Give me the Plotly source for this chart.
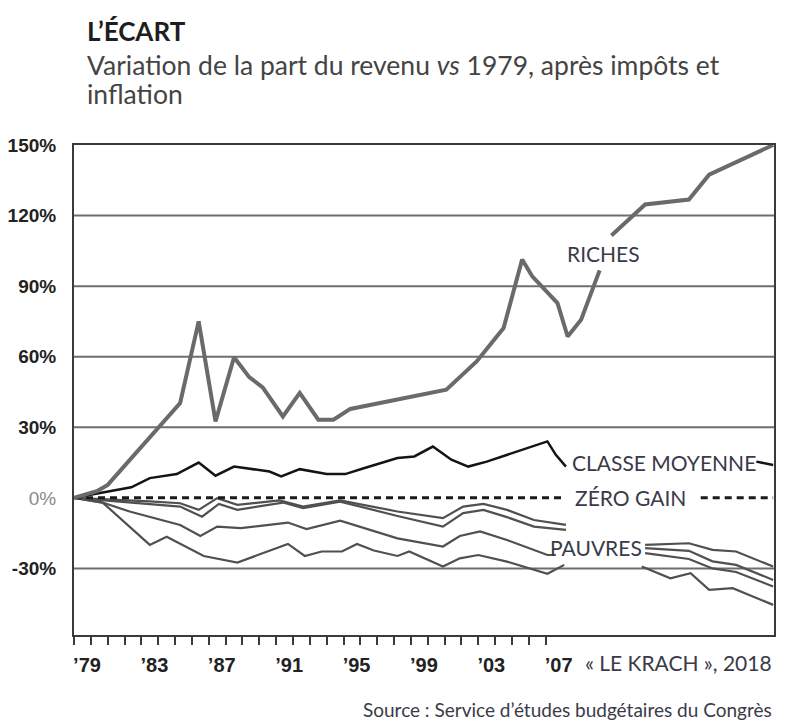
import plotly.graph_objects as go

# ---------------- data ----------------
RICHES_YEARS = [1979, 1980.4, 1981.0, 1985.3, 1986.4, 1987.4, 1988.5, 1989.4, 1990.2, 1991.4,
                1992.4, 1993.5, 1994.4, 1995.4, 2001.1, 2002.9, 2004.5, 2005.6, 2006.2, 2007.7,
                2008.3, 2009.1, 2010.2, None, 2010.9, 2012.9, 2015.5, 2016.7, 2020.5]
RICHES_VALUES = [0, 3, 5.5, 40.3, 75, 32.5, 59.8, 51.3, 47, 34.6,
                 44.6, 33.2, 33.2, 37.8, 46, 58, 72.2, 101.3, 94.2, 82.8,
                 68.6, 75.7, 96.7, None, 111.5, 124.7, 126.8, 137.4, 150]

MIDDLE_YEARS = [1979, 1980.7, 1982.4, 1983.5, 1985.1, 1986.4, 1987.4, 1988.5, 1989.6, 1990.6,
                1991.3, 1992.4, 1994.0, 1995.1, 1996.2, 1997.2, 1998.2, 1999.2, 2000.3, 2001.4,
                2002.4, 2003.5, 2007.1, 2007.6, 2008.2, None, 2019.5, 2020.5]
MIDDLE_VALUES = [0, 2.3, 4.5, 8.4, 10.1, 15, 9.4, 13.3, 12.2, 11.2,
                 9.1, 12.2, 10.1, 10.1, 12.6, 14.8, 16.9, 17.6, 21.8, 16.2,
                 13.3, 15.4, 24, 18.3, 13.3, None, 15.4, 14]

ZERO_YEARS = [1979, 2008.0, None, 2016.2, 2020.5]
ZERO_VALUES = [0, 0, None, 0, 0]

POOR1_YEARS = [1979, 1980.7, 1983.5, 1985.3, 1986.4, 1987.5, 1988.7, 1991.2, 1992.6, 1994.8,
               1998.2, 2000.9, 2002.1, 2003.3, 2004.7, 2006.3, 2008.2, None,
               2012.9, 2015.5, 2016.9, 2018.3, 2020.5]
POOR1_VALUES = [0, -0.5, -1.5, -2.3, -5.1, -0.1, -3, -1.1, -3.7, -1.1,
                -5.8, -8.6, -3.7, -2.6, -5.1, -9.4, -11.5, None,
                -20, -19.3, -22.1, -22.8, -29.2]

POOR2_YEARS = [1979, 1980.7, 1983.5, 1985.3, 1986.6, 1987.6, 1988.7, 1991.4, 1992.6, 1994.8,
               1998.2, 2000.9, 2002.1, 2003.3, 2004.7, 2006.3, 2008.2, None,
               2012.9, 2015.5, 2016.9, 2018.3, 2020.5]
POOR2_VALUES = [0, -1, -2.5, -3.7, -8, -2.6, -5.1, -2, -4.4, -1.6,
                -7.7, -12.2, -6.5, -5.1, -8.2, -12.2, -13.6, None,
                -21.4, -22.5, -27, -28.5, -34.9]

POOR3_YEARS = [1979, 1980.7, 1982.3, 1983.7, 1985.3, 1986.5, 1987.5, 1988.9, 1991.7, 1992.8,
               1994.8, 1998.2, 2000.9, 2001.9, 2003.1, 2004.7, 2007.1, 2007.6, None,
               2012.9, 2015.5, 2016.9, 2018.3, 2020.5]
POOR3_VALUES = [0, -2, -5.8, -8.6, -11.5, -16.2, -12.2, -12.9, -10.5, -13.3,
                -9.7, -17.2, -20.7, -16.2, -14.3, -17.9, -24.3, -24.3, None,
                -23.5, -26, -30, -31.5, -37.7]

POOR4_YEARS = [1979, 1980.7, 1983.5, 1984.5, 1986.7, 1988.7, 1991.7, 1992.7, 1993.7, 1994.9,
               1995.8, 1996.8, 1998.2, 1998.9, 2000.9, 2001.9, 2003.0, 2004.7, 2007.1, 2008.1, None,
               2012.7, 2014.4, 2015.6, 2016.7, 2018.1, 2020.5]
POOR4_VALUES = [0, -2, -20, -16.5, -24.7, -27.5, -19.6, -24.7, -22.8, -22.8,
                -19.6, -22.4, -24.7, -22.8, -29.2, -25.7, -24.3, -27.1, -32.3, -28.5, None,
                -29.2, -34.2, -32, -39.1, -38.4, -45.5]

Y_TICKS = [-30, 0, 30, 60, 90, 120, 150]
Y_TICK_TEXT = ["-30%", "<span style='font-weight:normal;color:#8a8a8a'>0%</span>",
               "30%", "60%", "90%", "120%", "150%"]
GRID_VALUES = [-30, 30, 60, 90, 120]
X_MINOR_TICKS = list(range(1979, 2008))
X_LABELLED = {1979: "’79", 1983: "’83", 1987: "’87", 1991: "’91",
              1995: "’95", 1999: "’99", 2003: "’03", 2007: "’07"}

TITLE = "L’ÉCART"
SUBTITLE_1 = "Variation de la part du revenu <i>vs</i> 1979, après impôts et"
SUBTITLE_2 = "inflation"
SOURCE = "Source\u202f: Service d’études budgétaires du Congrès"
CREDIT = "«\u202fLE KRACH\u202f», 2018"

# ---------------- figure ----------------
TXT = "#3a3a48"
LABEL_FONT = "Lato, 'Open Sans', sans-serif"

fig = go.Figure()

for yrs, vals in [(POOR1_YEARS, POOR1_VALUES), (POOR2_YEARS, POOR2_VALUES),
                  (POOR3_YEARS, POOR3_VALUES), (POOR4_YEARS, POOR4_VALUES)]:
    fig.add_trace(go.Scatter(x=yrs, y=vals, mode="lines", connectgaps=False,
                             line=dict(color="#505050", width=2.2), hoverinfo="skip"))

fig.add_trace(go.Scatter(x=ZERO_YEARS, y=ZERO_VALUES, mode="lines", connectgaps=False,
                         line=dict(color="#1a1a1a", width=3, dash="7px,5px"), hoverinfo="skip"))
fig.add_trace(go.Scatter(x=MIDDLE_YEARS, y=MIDDLE_VALUES, mode="lines", connectgaps=False,
                         line=dict(color="#141414", width=2.5), hoverinfo="skip"))
fig.add_trace(go.Scatter(x=RICHES_YEARS, y=RICHES_VALUES, mode="lines", connectgaps=False,
                         line=dict(color="#6a6a6a", width=4), hoverinfo="skip"))

shapes = [dict(type="line", xref="paper", x0=0, x1=1, yref="y", y0=g, y1=g,
               line=dict(color="#6e6e6e", width=2), layer="below") for g in GRID_VALUES]

annotations = [
    dict(text=f"<b>{TITLE}</b>", xref="paper", yref="paper", x=0.016, y=1.233,
         xanchor="left", yanchor="middle", showarrow=False,
         font=dict(family=LABEL_FONT, size=26, color="#1e1e1e")),
    dict(text=SUBTITLE_1, xref="paper", yref="paper", x=0.016, y=1.163,
         xanchor="left", yanchor="middle", showarrow=False,
         font=dict(family=LABEL_FONT, size=26.5, color="#444444")),
    dict(text=SUBTITLE_2, xref="paper", yref="paper", x=0.016, y=1.104,
         xanchor="left", yanchor="middle", showarrow=False,
         font=dict(family=LABEL_FONT, size=26.5, color="#444444")),
    dict(text="RICHES", x=2010.45, y=103.8, xanchor="center", yanchor="middle",
         showarrow=False, font=dict(family=LABEL_FONT, size=21, color=TXT)),
    dict(text="CLASSE MOYENNE", x=2014.0, y=14.9, xanchor="center", yanchor="middle",
         showarrow=False, font=dict(family=LABEL_FONT, size=21, color=TXT)),
    dict(text="ZÉRO GAIN", x=2012.05, y=0, xanchor="center", yanchor="middle",
         showarrow=False, font=dict(family=LABEL_FONT, size=21, color=TXT)),
    dict(text="PAUVRES", x=2010.0, y=-21.3, xanchor="center", yanchor="middle",
         showarrow=False, font=dict(family=LABEL_FONT, size=21, color=TXT)),
    dict(text=CREDIT, xref="paper", yref="paper", x=1.0, y=-0.057,
         xanchor="right", yanchor="middle", showarrow=False,
         font=dict(family=LABEL_FONT, size=21, color=TXT)),
    dict(text=SOURCE, xref="paper", yref="paper", x=1.0, y=-0.153,
         xanchor="right", yanchor="middle", showarrow=False,
         font=dict(family=LABEL_FONT, size=19, color=TXT)),
]

fig.update_layout(
    width=782, height=719,
    margin=dict(l=66, r=16, t=137, b=92, autoexpand=False),
    paper_bgcolor="white", plot_bgcolor="white",
    showlegend=False,
    shapes=shapes,
    annotations=annotations,
    xaxis=dict(
        range=[1979, 2020.55], showgrid=False, zeroline=False, automargin=False,
        showline=True, mirror=True, linecolor="#3a3a3a", linewidth=2,
        tickmode="array", tickvals=X_MINOR_TICKS,
        ticktext=[X_LABELLED.get(y, "") for y in X_MINOR_TICKS],
        ticks="outside", ticklen=8, tickwidth=1.5, tickcolor="#3a3a3a",
        ticklabelshift=13, ticklabelstandoff=3,
        tickfont=dict(family="Liberation Sans, Arial, sans-serif", size=20,
                      color="#222222", weight="bold"),
    ),
    yaxis=dict(
        range=[-58.3, 150], showgrid=False, zeroline=False, automargin=False,
        showline=True, mirror=True, linecolor="#3a3a3a", linewidth=2,
        tickmode="array", tickvals=Y_TICKS, ticktext=Y_TICK_TEXT,
        ticks="", ticklabelstandoff=12,
        tickfont=dict(family="Liberation Sans, Arial, sans-serif", size=19,
                      color="#222222", weight="bold"),
    ),
)

fig.write_html("out.html")
